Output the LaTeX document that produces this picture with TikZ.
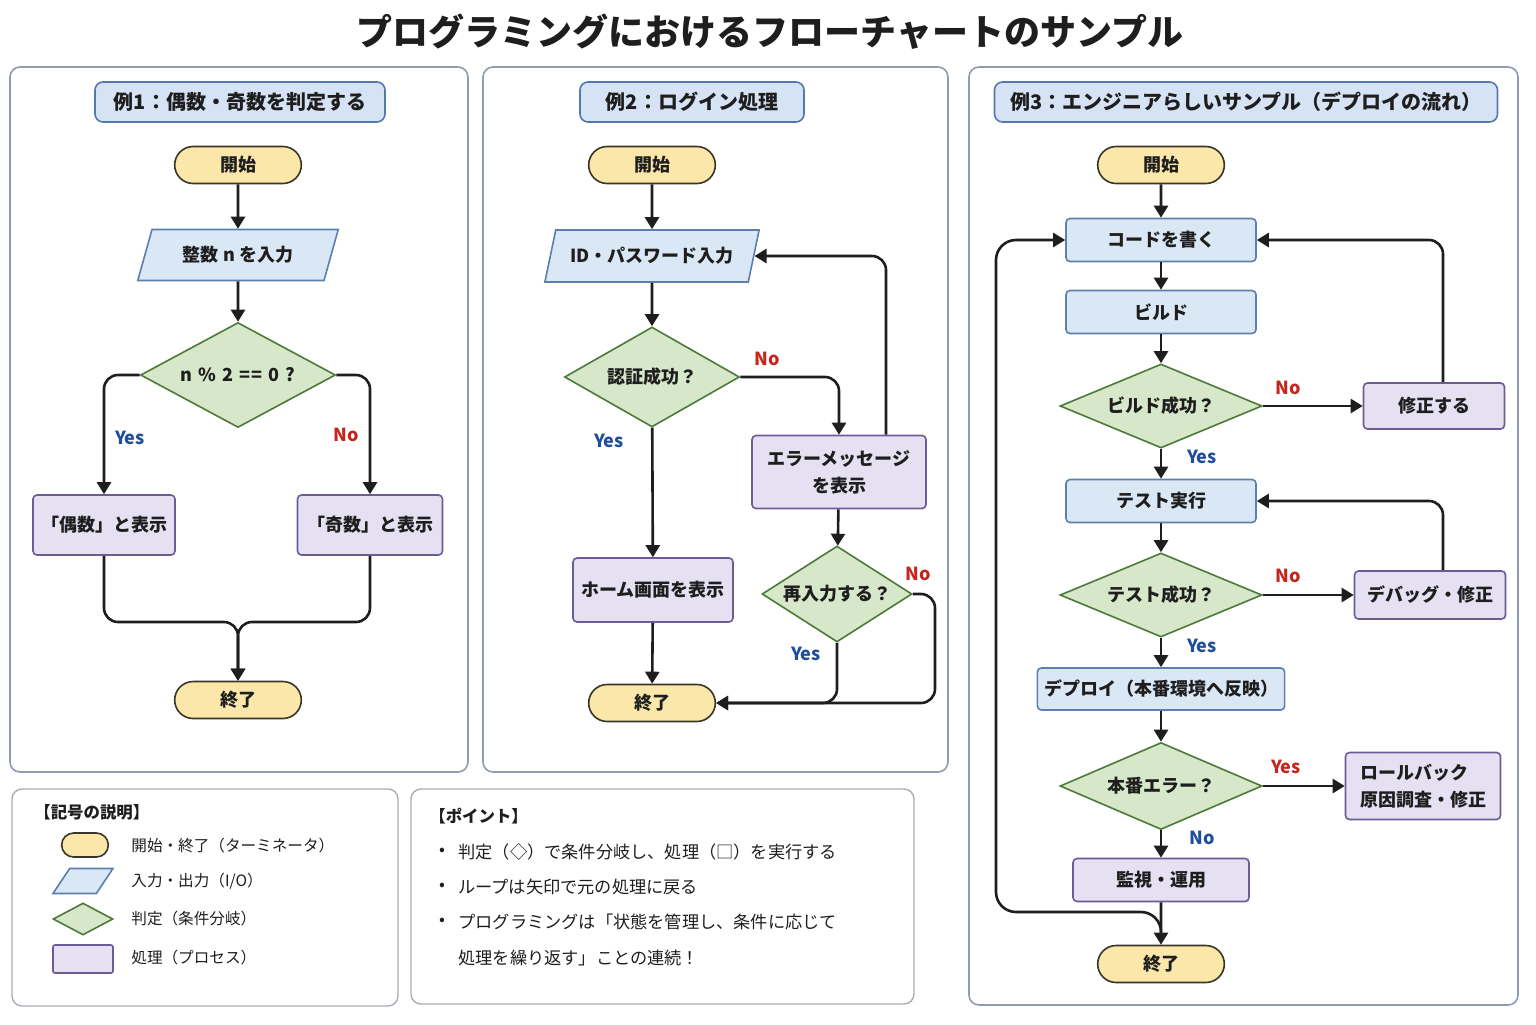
\documentclass[tikz,border=0pt]{standalone}
\usepackage{fontspec}
\setmainfont{Noto Sans CJK JP}
\usetikzlibrary{arrows.meta,shapes.geometric,shapes.misc}
\definecolor{inkc}{HTML}{1E1E1E}
\definecolor{panelc}{HTML}{8E9BB0}
\definecolor{boxd}{HTML}{A8ADB5}
\definecolor{headf}{HTML}{D5E3F5}
\definecolor{headd}{HTML}{5479B0}
\definecolor{termf}{HTML}{FBE7A9}
\definecolor{termd}{HTML}{3A3526}
\definecolor{iof}{HTML}{DAE8F6}
\definecolor{iod}{HTML}{5B80AE}
\definecolor{decf}{HTML}{D7E7C9}
\definecolor{decd}{HTML}{4B7A39}
\definecolor{procf}{HTML}{E5E0F2}
\definecolor{procd}{HTML}{6B5C97}
\definecolor{yesc}{HTML}{1F4E9F}
\definecolor{noc}{HTML}{C4261D}

\begin{document}
\begin{tikzpicture}[x=0.5pt, y=-0.5pt, >={Triangle[length=6pt,width=7pt]},
  panel/.style={draw=panelc, line width=0.8pt, rounded corners=5pt, fill=white},
  note/.style={draw=boxd, line width=0.7pt, rounded corners=5pt, fill=white},
  head/.style={draw=headd, fill=headf, line width=0.8pt, rounded corners=4pt, minimum height=20pt, text=inkc, font=\bfseries\fontsize{10}{12}\selectfont},
  term/.style={rounded rectangle, draw=termd, fill=termf, line width=0.8pt, minimum width=70pt, minimum height=18.5pt, text=inkc, font=\bfseries\fontsize{9}{11}\selectfont},
  io/.style={trapezium, trapezium left angle=66, trapezium right angle=114, trapezium stretches=true, draw=iod, fill=iof, line width=0.8pt, inner sep=1pt, text=inkc, font=\bfseries\fontsize{9}{11}\selectfont},
  dec/.style={diamond, draw=decd, fill=decf, line width=0.8pt, inner sep=0pt, text=inkc, font=\bfseries\fontsize{9}{11}\selectfont},
  proc/.style={rectangle, draw=procd, fill=procf, line width=0.8pt, rounded corners=2pt, align=center, text=inkc, font=\bfseries\fontsize{9}{13.5}\selectfont},
  blk/.style={rectangle, draw=iod, fill=iof, line width=0.8pt, rounded corners=2pt, minimum width=95pt, minimum height=21.5pt, text=inkc, font=\bfseries\fontsize{9}{11}\selectfont},
  flow/.style={->, draw=inkc, line width=1.3pt, rounded corners=7pt},
  bluel/.style={text=yesc, font=\bfseries\fontsize{9}{11}\selectfont},
  redl/.style={text=noc, font=\bfseries\fontsize{9}{11}\selectfont},
  lgtxt/.style={anchor=west, inner sep=0pt, text=inkc, font=\fontsize{7.8}{9}\selectfont},
  pttxt/.style={anchor=west, inner sep=0pt, text=inkc, font=\fontsize{8.6}{10}\selectfont},
]
  \useasboundingbox (0,0) rectangle (1536,1024);
  \fill[white] (0,0) rectangle (1536,1024);

  \node[text=inkc, font=\bfseries\fontsize{18}{22}\selectfont] (title) at (770,32) {プログラミングにおけるフローチャートのサンプル};

  \draw[panel] (10,67) rectangle (468,772);
  \draw[panel] (483,67) rectangle (948,772);
  \draw[panel] (969,67) rectangle (1518,1005);
  \draw[note] (12,789) rectangle (398,1006);
  \draw[note] (411,789) rectangle (914,1004);

  % example 1
  \node[head, minimum width=145pt] (h1) at (240,102) {例1：偶数・奇数を判定する};
  \node[term] (start1) at (238,165) {開始};
  \node[io, minimum width=100.5pt, minimum height=25.5pt] (input1) at (238,255) {整数 n を入力};
  \node[dec, aspect=1.86, minimum width=97.5pt, minimum height=52.5pt] (dec1) at (238,375) {n\hspace{3pt}\%\hspace{3pt}2\hspace{3pt}=\kern1pt=\hspace{3pt}0\hspace{3pt}?};
  \node[proc, minimum width=71pt, minimum height=30pt] (even1) at (104,525) {「偶数」と表示};
  \node[proc, minimum width=72.5pt, minimum height=30pt] (odd1) at (370,525) {「奇数」と表示};
  \node[term] (end1) at (238,700) {終了};
  \coordinate (merge1) at (238,622);
  \node[bluel] (y1) at (130,438) {Yes};
  \node[redl] (n1) at (346,435) {No};

  \draw[flow] (start1) -- (input1);
  \draw[flow] (input1) -- (dec1);
  \draw[flow] (dec1.west) -| (even1.north);
  \draw[flow] (dec1.east) -| (odd1.north);
  \draw[flow] (even1.south) |- (merge1) -- (end1.north);
  \draw[flow] (odd1.south) |- (merge1) -- (end1.north);

  % example 2
  \node[head, minimum width=112pt] (h2) at (692,102) {例2：ログイン処理};
  \node[term] (start2) at (652,165) {開始};
  \node[io, minimum width=107.5pt, minimum height=26pt] (input2) at (652,256) {ID・パスワード入力};
  \node[dec, aspect=1.75, minimum width=87.5pt, minimum height=50pt] (auth2) at (652,377) {認証成功？};
  \node[proc, minimum width=87pt, minimum height=36.5pt] (err2) at (839,472) {エラーメッセージ\\を表示};
  \node[proc, minimum width=80pt, minimum height=32pt] (home2) at (653,590) {ホーム画面を表示};
  \node[dec, aspect=1.56, minimum width=75pt, minimum height=48pt] (retry2) at (837,594) {再入力する？};
  \node[term] (end2) at (652,703) {終了};
  \coordinate (ret2) at (935,703);
  \node[redl] (n2) at (767,359) {No};
  \node[bluel] (y2) at (609,441) {Yes};
  \node[redl] (n3) at (918,574) {No};
  \node[bluel] (y3) at (806,654) {Yes};

  \draw[flow] (start2) -- (input2);
  \draw[flow] (input2) -- (auth2);
  \draw[flow] (auth2.east) -| (err2.north);
  \draw[flow] ([xshift=23.5pt]err2.north) |- (input2.east);
  \draw[flow] (auth2) -- (home2);
  \draw[flow] (home2) -- (end2);
  \draw[flow] (err2) -- (retry2);
  \draw[flow] (retry2.east) -| (ret2) -- (end2.east);
  \draw[flow] (retry2.south) |- (end2.east);

  % example 3
  \node[head, minimum width=251.5pt] (h3) at (1246,102) {例3：エンジニアらしいサンプル（デプロイの流れ）};
  \node[term] (start3) at (1161,165) {開始};
  \node[blk] (code3) at (1161,240) {コードを書く};
  \node[blk] (build3) at (1161,312) {ビルド};
  \node[dec, aspect=2.4, minimum width=101pt, minimum height=42pt] (bok3) at (1161,406) {ビルド成功？};
  \node[proc, minimum width=70.5pt, minimum height=23pt] (fix3) at (1434,406) {修正する};
  \node[blk] (test3) at (1161,501) {テスト実行};
  \node[dec, aspect=2.4, minimum width=101pt, minimum height=42pt] (tok3) at (1161,595) {テスト成功？};
  \node[proc, minimum width=75.5pt, minimum height=24pt] (debug3) at (1430,595) {デバッグ・修正};
  \node[blk, minimum width=123.5pt, minimum height=21pt] (deploy3) at (1161,689) {デプロイ（本番環境へ反映）};
  \node[dec, aspect=2.3, minimum width=101pt, minimum height=43.5pt] (prod3) at (1161,786) {本番エラー？};
  \node[proc, minimum width=77.5pt, minimum height=33.5pt, align=left] (roll3) at (1423,786) {ロールバック\\原因調査・修正};
  \node[proc, minimum width=88pt, minimum height=21.5pt] (ops3) at (1161,880) {監視・運用};
  \node[term] (end3) at (1161,964) {終了};
  \coordinate (loop3) at (1161,932);
  \coordinate (back3) at (996,912);
  \node[redl] (n4) at (1288,388) {No};
  \node[bluel] (y4) at (1202,457) {Yes};
  \node[redl] (n5) at (1288,576) {No};
  \node[bluel] (y5) at (1202,646) {Yes};
  \node[redl] (y6) at (1286,767) {Yes};
  \node[bluel] (n6) at (1202,838) {No};

  \draw[flow] (start3) -- (code3);
  \draw[flow] (code3) -- (build3);
  \draw[flow] (build3) -- (bok3);
  \draw[flow] (bok3) -- (fix3);
  \draw[flow] ([xshift=4.5pt]fix3.north) |- (code3.east);
  \draw[flow] (bok3) -- (test3);
  \draw[flow] (test3) -- (tok3);
  \draw[flow] (tok3) -- (debug3);
  \draw[flow] ([xshift=6.5pt]debug3.north) |- (test3.east);
  \draw[flow] (tok3) -- (deploy3);
  \draw[flow] (deploy3) -- (prod3);
  \draw[flow] (prod3) -- (roll3);
  \draw[flow] (prod3) -- (ops3);
  \draw[flow] (ops3) -- (end3);
  \draw[flow, rounded corners=10pt] (loop3) |- (back3) |- (code3.west);

  % legend
  \node[anchor=west, inner sep=0pt, text=inkc, font=\bfseries\fontsize{8.2}{10}\selectfont] (lghead) at (34,812) {【記号の説明】};
  \node[term, minimum width=30pt, minimum height=12pt] (lgterm) at (85,845) {};
  \node[io, minimum width=30pt, minimum height=12.5pt, trapezium left angle=58, trapezium right angle=122] (lgio) at (83,881) {};
  \node[dec, aspect=1.9, minimum width=30pt, minimum height=16pt] (lgdec) at (83,919) {};
  \node[proc, minimum width=30pt, minimum height=14pt, rounded corners=1pt] (lgproc) at (83,959) {};
  \node[lgtxt] (lgt1) at (131,846) {開始・終了（ターミネータ）};
  \node[lgtxt] (lgt2) at (131,881) {入力・出力（I/O）};
  \node[lgtxt] (lgt3) at (131,919) {判定（条件分岐）};
  \node[lgtxt] (lgt4) at (131,958) {処理（プロセス）};

  % points
  \node[anchor=west, inner sep=0pt, text=inkc, font=\bfseries\fontsize{8.2}{10}\selectfont] (pthead) at (429,816) {【ポイント】};
  \node[pttxt] (pb1) at (439,852) {•};
  \node[pttxt] (pb2) at (439,887) {•};
  \node[pttxt] (pb3) at (439,922) {•};
  \node[pttxt] (pt1) at (458,852) {判定（◇）で条件分岐し、処理（□）を実行する};
  \node[pttxt] (pt2) at (458,887) {ループは矢印で元の処理に戻る};
  \node[pttxt] (pt3) at (458,922) {プログラミングは「状態を管理し、条件に応じて};
  \node[pttxt] (pt4) at (458,958) {処理を繰り返す」ことの連続！};
\end{tikzpicture}
\end{document}
